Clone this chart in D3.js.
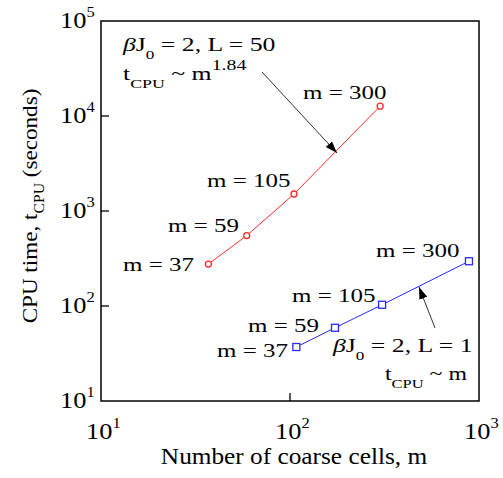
<!DOCTYPE html>
<html>
<head>
<meta charset="utf-8">
<script src="https://cdn.jsdelivr.net/npm/d3@7"></script>
<style>
  body { margin: 0; background: #fff; }
  svg text { font-family: "Liberation Serif", "Times New Roman", serif; fill: #000; }
</style>
</head>
<body>
<div id="chart"></div>
<script>
// data
var redM = [37, 59, 105, 300];          // L = 50
var redT = [276, 551, 1510, 12700];
var blueM = [108, 173, 307, 885];       // L = 1
var blueT = [37, 59, 103, 296];
var xTicks = [10, 100, 1000];
var yTicks = [10, 100, 1000, 10000, 100000];

var W = 503, H = 478;
var margin = {left: 101, right: 24, top: 21, bottom: 77};
var RED = '#ff2a2a', BLUE = '#2a2aff';

var svg = d3.select('#chart').append('svg')
  .attr('width', W)
  .attr('height', H);

var x = d3.scaleLog().domain([10, 1000]).range([margin.left, W - margin.right]);
var y = d3.scaleLog().domain([10, 100000]).range([H - margin.bottom, margin.top]);

// the reference font is drawn wider than Times, stretch text sideways
function stretch(sel, k){
  sel.each(function(){
    var n = this.getComputedTextLength();
    d3.select(this).attr('textLength', n * k).attr('lengthAdjust', 'spacingAndGlyphs');
  });
}

// frame
svg.append('rect')
  .attr('x', x(10)).attr('y', y(100000))
  .attr('width', x(1000) - x(10))
  .attr('height', y(10) - y(100000))
  .attr('fill', 'none')
  .attr('stroke', '#000')
  .attr('stroke-width', 1.5);

// inward ticks, left and bottom only
svg.selectAll('.ytick').data(yTicks.slice(1, -1)).enter()
  .append('line')
  .attr('x1', x(10)).attr('x2', x(10) + 8)
  .attr('y1', function(d){ return y(d); })
  .attr('y2', function(d){ return y(d); })
  .attr('stroke', '#000').attr('stroke-width', 1.3);
svg.selectAll('.xtick').data(xTicks.slice(1, -1)).enter()
  .append('line')
  .attr('y1', y(10)).attr('y2', y(10) - 8)
  .attr('x1', function(d){ return x(d); })
  .attr('x2', function(d){ return x(d); })
  .attr('stroke', '#000').attr('stroke-width', 1.3);

function pow10(sel, d){
  sel.append('tspan').text('10');
  sel.append('tspan').attr('dy', -11).attr('font-size', 15).text(Math.round(Math.log10(d)));
}

svg.selectAll('.ylab').data(yTicks).enter()
  .append('text')
  .attr('class', 'tk')
  .attr('x', 60)
  .attr('y', function(d){ return y(d) + 7; })
  .attr('font-size', 24)
  .each(function(d){ pow10(d3.select(this), d); });

svg.selectAll('.xlab').data(xTicks).enter()
  .append('text')
  .attr('class', 'tk')
  .attr('x', function(d){ return x(d) - 15; })
  .attr('y', 439)
  .attr('font-size', 24)
  .each(function(d){ pow10(d3.select(this), d); });
stretch(svg.selectAll('.tk'), 1.1);

// axis titles
svg.append('text')
  .attr('x', 294).attr('y', 464)
  .attr('text-anchor', 'middle')
  .attr('font-size', 23)
  .text('Number of coarse cells, m')
  .call(stretch, 1.1);

var yt = svg.append('text')
  .attr('transform', 'translate(37,206) rotate(-90)')
  .attr('text-anchor', 'middle')
  .attr('font-size', 22);
yt.append('tspan').text('CPU time, t');
yt.append('tspan').attr('dy', 7).attr('font-size', 15).text('CPU');
yt.append('tspan').attr('dy', -7).text(' (seconds)');
stretch(yt, 1.05);

// series
var line = d3.line()
  .x(function(d){ return x(d[0]); })
  .y(function(d){ return y(d[1]); });

var red = d3.zip(redM, redT);
var blue = d3.zip(blueM, blueT);

svg.append('path').datum(red)
  .attr('d', line).attr('fill', 'none')
  .attr('stroke', RED).attr('stroke-width', 1);
svg.selectAll('.rpt').data(red).enter()
  .append('circle')
  .attr('cx', function(d){ return x(d[0]); })
  .attr('cy', function(d){ return y(d[1]); })
  .attr('r', 3)
  .attr('fill', '#fff').attr('stroke', RED).attr('stroke-width', 1.3);

svg.append('path').datum(blue)
  .attr('d', line).attr('fill', 'none')
  .attr('stroke', BLUE).attr('stroke-width', 1);
svg.selectAll('.bpt').data(blue).enter()
  .append('rect')
  .attr('x', function(d){ return x(d[0]) - 3.5; })
  .attr('y', function(d){ return y(d[1]) - 3.5; })
  .attr('width', 7).attr('height', 7)
  .attr('fill', '#fff').attr('stroke', BLUE).attr('stroke-width', 1.3);

// point labels
var labels = [
  {t: 'm = 37',  x: 123, y: 271},
  {t: 'm = 59',  x: 168, y: 232},
  {t: 'm = 105', x: 207, y: 187},
  {t: 'm = 300', x: 303, y: 99},
  {t: 'm = 37',  x: 217, y: 357},
  {t: 'm = 59',  x: 248, y: 332},
  {t: 'm = 105', x: 292, y: 302},
  {t: 'm = 300', x: 376, y: 257}
];
svg.selectAll('.mlab').data(labels).enter()
  .append('text')
  .attr('class', 'mlab')
  .attr('x', function(d){ return d.x; })
  .attr('y', function(d){ return d.y; })
  .attr('font-size', 19.5)
  .text(function(d){ return d.t; });
stretch(svg.selectAll('.mlab'), 1.28);

// annotations
function caseLabel(px, py, qx, qy, L, expo){
  var a = svg.append('text').attr('x', px).attr('y', py).attr('font-size', 19.5);
  a.append('tspan').attr('font-style', 'italic').text('β');
  a.append('tspan').text('J');
  a.append('tspan').attr('dy', 8).attr('font-size', 13).text('0');
  a.append('tspan').attr('dy', -8).text(' = 2, L = ' + L);
  stretch(a, 1.32);
  var b = svg.append('text').attr('x', qx).attr('y', qy).attr('font-size', 19.5);
  b.append('tspan').text('t');
  b.append('tspan').attr('dy', 8).attr('font-size', 13.5).text('CPU');
  b.append('tspan').attr('dy', -8).text(' ~ m');
  if(expo){
    b.append('tspan').attr('dy', -10).attr('font-size', 15).text(expo);
  }
  stretch(b, expo ? 1.32 : 1.22);
}
caseLabel(123, 51, 123, 80, 50, '1.84');
caseLabel(333, 352, 385, 380, 1, null);

svg.append('defs').append('marker')
  .attr('id', 'head')
  .attr('viewBox', '0 0 10 10')
  .attr('refX', 10).attr('refY', 5)
  .attr('markerWidth', 12).attr('markerHeight', 12)
  .attr('markerUnits', 'userSpaceOnUse')
  .attr('orient', 'auto')
  .append('path').attr('d', 'M0,1.5L10,5L0,8.5Z').attr('fill', '#000');

var arrows = [
  {x1: 262, y1: 72, x2: 337, y2: 153},
  {x1: 435, y1: 328, x2: 419, y2: 287}
];
svg.selectAll('.arr').data(arrows).enter()
  .append('line')
  .attr('x1', function(d){ return d.x1; })
  .attr('y1', function(d){ return d.y1; })
  .attr('x2', function(d){ return d.x2; })
  .attr('y2', function(d){ return d.y2; })
  .attr('stroke', '#333').attr('stroke-width', 1)
  .attr('marker-end', 'url(#head)');
</script>
</body>
</html>
